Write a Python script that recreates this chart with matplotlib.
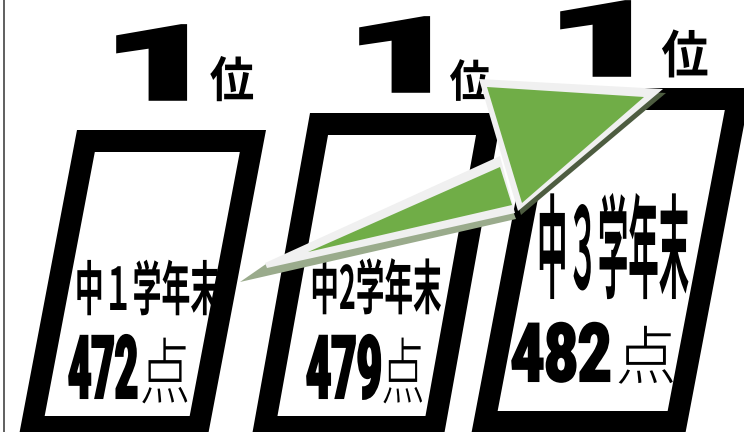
import matplotlib
matplotlib.use('Agg')
import matplotlib.pyplot as plt
from matplotlib.patches import Polygon
from matplotlib.patheffects import AbstractPathEffect
from matplotlib.transforms import Affine2D

# ---- data ----
terms = ['中１学年末', '中2学年末', '中３学年末']
scores = [472, 479, 482]
ranks = [1, 1, 1]

# ---- layout (pixel coords, y grows downwards) ----
box_top = [130, 113, 88]
box_left = [77, 310, 537]
box_width = [189, 192, 214]
box_bottom = [438, 438, 433]
box_slant = [0.19, 0.18, 0.19]
border = 22

rank_x = [152, 395, 596]
rank_base = [98, 90, 74]
rank_size = 72
i_x = [232, 470, 685]
i_base = [97, 97, 73]
i_size = [32, 29.5, 34]

# font size sets the width, the stretch sets the height
term_x = [147, 376, 613]
term_base = [310, 309, 289]
term_size = [20.8, 20.6, 21.9]
term_sy = [2.04, 2.08, 3.7]

score_x = [103, 344, 561]
score_base = [398, 398, 381]
score_size = [29, 31.5, 41.8]
score_sy = [2.17, 2.0, 1.39]

ten_x = [165, 403, 646]
ten_base = [398, 398, 379]
ten_size = [36.4, 31.2, 43.7]
ten_sy = [1.43, 1.67, 1.05]

GREEN = '#70ad47'
EDGE = '#f0f0f0'


class Stretch(AbstractPathEffect):
    """draw the text path scaled around its horizontal centre and baseline"""
    def __init__(self, sx=1.0, sy=1.0, lw=0.0):
        super().__init__()
        self.sx = sx
        self.sy = sy
        self.lw = lw

    def draw_path(self, renderer, gc, tpath, affine, rgbFace=None):
        v = tpath.vertices
        cx = (v[:, 0].min() + v[:, 0].max()) / 2 if len(v) else 0
        aff = (Affine2D().translate(-cx, 0).scale(self.sx, self.sy)
               .translate(cx, 0) + affine)
        gc0 = renderer.new_gc()
        gc0.copy_properties(gc)
        if self.lw:
            gc0.set_linewidth(self.lw)
            gc0.set_foreground(rgbFace)
            gc0.set_joinstyle('miter')
        else:
            gc0.set_linewidth(0)
        renderer.draw_path(gc0, tpath, aff, rgbFace)
        gc0.restore()


def para(left, top, width, bottom, s):
    d = s * (bottom - top)
    return [(left, top), (left + width, top), (left + width - d, bottom), (left - d, bottom)]


fig = plt.figure(figsize=(7.44, 4.32), dpi=100)
ax = fig.add_axes([0, 0, 1, 1])
ax.set_xlim(0, 744)
ax.set_ylim(432, 0)
ax.axis('off')

# left frame line
ax.plot([3.8, 3.8], [0, 432], color='#444444', lw=1.2)

txt = dict(ha='center', va='baseline', color='black', zorder=3)
for i in range(3):
    s = box_slant[i]
    ax.add_patch(Polygon(para(box_left[i], box_top[i], box_width[i], box_bottom[i], s),
                         closed=True, fc='black', ec='none', zorder=1))
    t = border
    il = box_left[i] - s * t + t
    ax.add_patch(Polygon(para(il, box_top[i] + t, box_width[i] - 2 * t,
                              box_bottom[i] - t, s),
                         closed=True, fc='white', ec='none', zorder=2))

    ax.text(rank_x[i], rank_base[i], str(ranks[i]), fontsize=rank_size,
            family='Roboto', fontweight='black',
            path_effects=[Stretch(2.0, 1.0, 4)], **txt)
    ax.text(i_x[i], i_base[i], '位', fontsize=i_size[i],
            family='Noto Sans CJK JP', fontweight='bold',
            path_effects=[Stretch(1.0, 1.09)], **txt)
    ax.text(term_x[i], term_base[i], terms[i], fontsize=term_size[i],
            family='Noto Sans CJK JP', fontweight='bold',
            path_effects=[Stretch(1.0, term_sy[i])], **txt)
    ax.text(score_x[i], score_base[i], str(scores[i]), fontsize=score_size[i],
            family='Roboto', fontweight='black',
            path_effects=[Stretch(1.0, score_sy[i], 1.5)], **txt)
    ax.text(ten_x[i], ten_base[i], '点', fontsize=ten_size[i],
            family='Noto Sans CJK JP', fontweight='light',
            path_effects=[Stretch(1.0, ten_sy[i])], **txt)

# ---- rising arrow from 中1 to 中3 ----
shaft_shadow = [(240, 282), (266, 264), (513, 211), (516, 219)]
shaft_edge = [(265, 263), (500, 156), (515, 213), (267, 268)]
shaft = [(308, 252), (500, 167), (512, 205)]
head_shadow = [(482, 83), (666, 93), (521, 215)]
head_edge = [(479, 79), (663, 89), (518, 211)]
head = [(487, 87), (644, 97), (522, 203)]

ax.add_patch(Polygon(shaft_shadow, fc='#9aab8c', ec='none', zorder=5))
ax.add_patch(Polygon(shaft_edge, fc=EDGE, ec='none', zorder=6))
ax.add_patch(Polygon(shaft, fc=GREEN, ec='none', zorder=7))
ax.add_patch(Polygon(head_shadow, fc='#4d5c40', ec='none', zorder=8))
ax.add_patch(Polygon(head_edge, fc=EDGE, ec='none', zorder=9))
ax.add_patch(Polygon(head, fc=GREEN, ec='none', zorder=10))

fig.savefig('out.png', dpi=100)
